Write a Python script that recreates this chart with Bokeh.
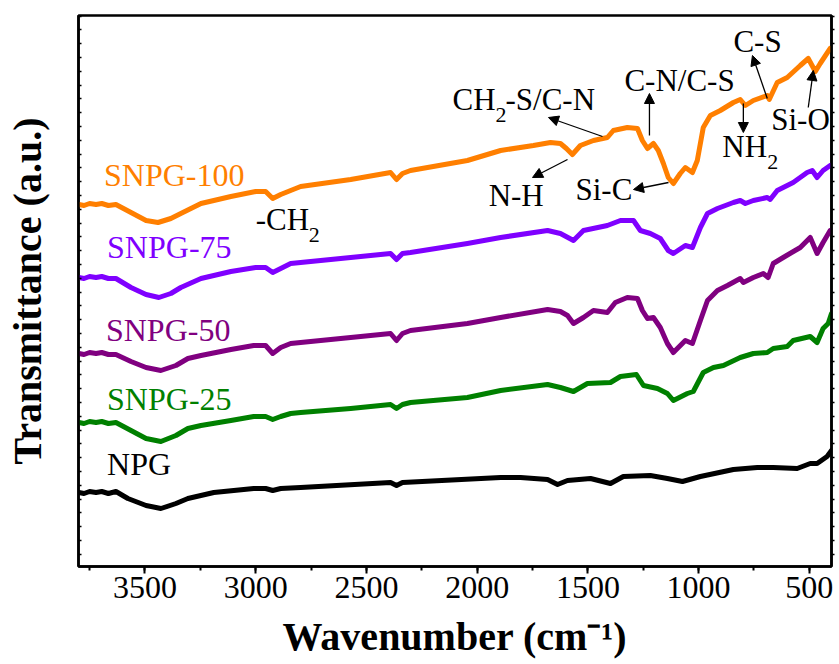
from bokeh.plotting import figure
from bokeh.models import (Range1d, LinearAxis, FixedTicker, SingleIntervalTicker,
                          Arrow, NormalHead, CustomJSTickFormatter)
from bokeh.core.properties import value
from bokeh.embed import file_html
from bokeh.resources import INLINE

# ---- data (wavenumber cm-1, transmittance a.u. with vertical offsets) ----
wn100 = [3798,3775,3750,3721,3695,3665,3631,3563,3495,3441,3383,3338,3247,3112,3000,2955,2923,2887,2842,2797,2571,2391,2364,2337,2301,2044,1894,1746,1669,1624,1597,1570,1534,1475,1412,1385,1322,1276,1254,1231,1204,1182,1159,1137,1114,1083,1060,1028,1006,979,947,902,843,812,789,753,690,681,645,600,541,505,473,451,406]
t100 = [362,361,363,362,363,361,362,354,346,344,348,353,363,370,375,375,368,372,376,380,387,394,387,393,396,406,416,421,424,423,418,412,421,426,429,436,439,438,426,418,423,416,403,389,383,393,399,394,406,439,451,456,464,467,461,466,471,467,484,489,501,508,495,503,518]

wn75 = [3798,3775,3750,3721,3695,3665,3631,3563,3495,3437,3383,3338,3247,3112,3000,2955,2923,2887,2842,2797,2571,2391,2364,2337,2301,2044,1894,1682,1624,1565,1520,1412,1353,1294,1263,1218,1173,1137,1114,1060,1028,992,960,915,843,812,789,753,690,677,645,573,510,487,465,438,406]
t75 = [289,288,290,289,290,288,288,279,272,269,273,279,288,295,299,299,294,298,303,304,309,313,307,313,314,323,329,336,333,326,336,341,346,346,336,333,328,316,313,321,319,339,353,358,364,366,363,366,369,367,376,384,394,396,389,396,401]

wn50 = [3798,3775,3750,3721,3695,3665,3631,3563,3495,3428,3360,3306,3247,3112,3009,2955,2923,2887,2842,2797,2571,2391,2364,2337,2301,2044,1894,1682,1624,1592,1565,1520,1475,1412,1376,1322,1276,1254,1231,1204,1173,1141,1114,1060,1028,992,960,915,870,812,798,753,708,686,663,618,541,496,465,438,406]
t50 = [213,212,214,213,214,212,212,205,199,196,201,208,211,217,221,221,213,219,223,224,229,233,226,233,236,243,249,257,255,251,243,249,256,254,264,269,268,256,248,249,239,223,214,226,223,246,266,276,281,288,284,289,293,289,303,309,319,329,313,324,336]

wn25 = [3798,3775,3750,3721,3695,3665,3631,3563,3495,3428,3360,3306,3247,3112,3009,2955,2923,2887,2842,2797,2571,2391,2364,2337,2301,2044,1894,1682,1624,1565,1502,1398,1353,1281,1249,1186,1141,1114,1051,1024,979,933,888,812,753,690,663,600,573,496,465,438,415,400]
t25 = [144,143,145,144,145,143,144,136,128,125,131,138,141,146,150,150,147,150,153,154,158,162,158,162,164,169,176,182,179,175,183,184,190,192,181,178,173,166,173,175,194,199,201,209,213,214,218,220,226,230,224,238,243,253]

wnN = [3798,3775,3750,3721,3695,3665,3631,3577,3495,3428,3360,3306,3189,3009,2955,2923,2887,2797,2391,2364,2337,1894,1804,1682,1637,1592,1488,1398,1340,1218,1141,1073,992,843,735,663,555,496,465,420,400]
tN = [74,73,75,74,75,73,75,68,61,58,63,68,74,78,78,76,78,79,84,81,84,89,89,87,82,86,88,83,90,91,88,85,90,97,99,99,98,103,103,110,116]

series_names = ["SNPG-100", "SNPG-75", "SNPG-50", "SNPG-25", "NPG"]
series_colors = ["#FF7F00", "#7F00FF", "#800080", "#008000", "#000000"]
series_x = [wn100, wn75, wn50, wn25, wnN]
series_y = [t100, t75, t50, t25, tN]
# label anchors (wavenumber, a.u.)
label_x = [3685, 3671, 3676, 3671, 3671]
label_y = [392, 320, 237, 168, 103]

x_ticks_major = 500
FONT = "Liberation Serif"

p = figure(width=835, height=664, output_backend="svg", toolbar_location=None,
           x_range=Range1d(3800, 400), y_range=Range1d(0, 551),
           min_border_left=78, min_border_right=4, min_border_top=15,
           min_border_bottom=98)
p.grid.visible = False
p.outline_line_color = "black"
p.outline_line_width = 2.5
p.background_fill_color = "white"
p.border_fill_color = "white"

# x axis
xa = p.xaxis[0]
xa.ticker = SingleIntervalTicker(interval=x_ticks_major, num_minor_ticks=2)
xa.axis_line_width = 2.5
xa.major_tick_in = 0
xa.major_tick_out = 7
xa.minor_tick_in = 0
xa.minor_tick_out = 4
xa.major_tick_line_width = 2
xa.minor_tick_line_width = 2
xa.major_label_text_font = FONT
xa.major_label_text_font_size = "32px"
xa.major_label_text_color = "black"
xa.major_label_standoff = 3
xa.axis_label = "Wavenumber (cm\u207b\u00b9)"
xa.axis_label_text_font = FONT
xa.axis_label_text_font_size = "40px"
xa.axis_label_text_font_style = "bold"
xa.axis_label_text_color = "black"
xa.axis_label_standoff = 13

# y axes (no labels, small ticks)
yt = [12.3 + 13.8 * k for k in range(40)]
empty = CustomJSTickFormatter(code="return ''")
ya = p.yaxis[0]
ya.ticker = FixedTicker(ticks=yt)
ya.formatter = empty
ya.major_label_text_font_size = "0px"
ya.major_label_standoff = 0
ya.axis_line_width = 2.5
ya.major_tick_in = 3
ya.major_tick_out = 0
ya.major_tick_line_width = 1.5
ya.minor_tick_line_color = None
ya.axis_label = "Transmittance (a.u.)"
ya.axis_label_text_font = FONT
ya.axis_label_text_font_size = "40px"
ya.axis_label_text_font_style = "bold"
ya.axis_label_text_color = "black"
ya.axis_label_standoff = 29

ra = LinearAxis(ticker=FixedTicker(ticks=yt), formatter=CustomJSTickFormatter(code="return ''"),
                major_label_text_font_size="0px", major_label_standoff=0,
                axis_line_width=2.5, major_tick_in=0, major_tick_out=3,
                major_tick_line_width=1.5, minor_tick_line_color=None)
p.add_layout(ra, "right")

for xs, ys, c in zip(series_x, series_y, series_colors):
    p.line(xs, ys, line_color=c, line_width=5, line_join="round", line_cap="round")

for name, c, lx, ly in zip(series_names, series_colors, label_x, label_y):
    p.text(x=[lx], y=[ly], text=[name], text_color=c, text_font=value(FONT),
           text_font_size=value("32px"), text_align="left", text_baseline="alphabetic")

# peak annotations
ann_text = ["-CH", "CH", "-S/C-N", "C-N/C-S", "C-S", "NH", "Si-O", "N-H", "Si-C"]
ann_x = [3000, 2111, 1872, 1335, 843, 893, 672, 1948, 1556]
ann_y = [347, 467, 467, 486, 525, 420, 447, 371, 377]
p.text(x=ann_x, y=ann_y, text=ann_text, text_color="black", text_font=value(FONT),
       text_font_size=value("31px"), text_align="left", text_baseline="alphabetic")
sub_x = [2760, 1917, 690]
sub_y = [332, 452, 405]
p.text(x=sub_x, y=sub_y, text=["2", "2", "2"], text_color="black", text_font=value(FONT),
       text_font_size=value("22px"), text_align="left", text_baseline="alphabetic")

arrows = [  # (x_start, y_start, x_end, y_end)
    (1434, 430, 1678, 449),
    (1592, 407, 1750, 389),
    (1222, 431, 1222, 473),
    (1136, 384, 1294, 377),
    (798, 463, 798, 434),
    (690, 468, 757, 511),
    (505, 459, 482, 496),
]
for xs0, ys0, xe, ye in arrows:
    p.add_layout(Arrow(end=NormalHead(size=10, fill_color="black", line_color="black", line_width=1),
                       x_start=xs0, y_start=ys0, x_end=xe, y_end=ye,
                       line_color="black", line_width=1.3))

open("out.html", "w").write(file_html(p, INLINE))
